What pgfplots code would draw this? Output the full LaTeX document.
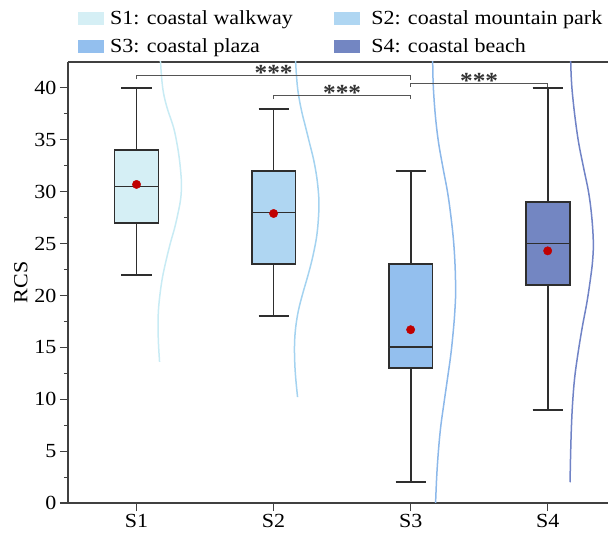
\documentclass[border=0pt]{standalone}
\usepackage{fontspec}
\setmainfont{Liberation Serif}[FakeStretch=1.1]
\usepackage{pgfplots}
\pgfplotsset{compat=1.18}
\usepgfplotslibrary{statistics}
\definecolor{f1}{HTML}{D5EFF5}
\definecolor{f2}{HTML}{AFD6F2}
\definecolor{f3}{HTML}{93BFEE}
\definecolor{f4}{HTML}{7386C2}
\definecolor{v1}{HTML}{C8EBF4}
\definecolor{v2}{HTML}{A4D3F0}
\definecolor{v3}{HTML}{8CB8EA}
\definecolor{v4}{HTML}{7083C6}
\definecolor{boxdraw}{HTML}{2E2E2E}
\definecolor{meanred}{HTML}{C00000}
\definecolor{axcol}{HTML}{404040}
\definecolor{brk}{HTML}{555555}
\begin{document}
\begin{tikzpicture}
\begin{axis}[
  at={(0,0)}, anchor=south west,
  scale only axis, width=540pt, height=441pt,
  xmin=0.5, xmax=4.44, ymin=0, ymax=42.5,
  axis x line*=box, axis y line*=left,
  axis line style={axcol, line width=1.2pt},
  xtick={1,2,3,4}, xticklabels={S1,S2,S3,S4},
  xtick pos=left,
  ytick={0,5,...,40}, minor y tick num=1,
  tick align=outside,
  major tick length=8pt, minor tick length=4pt,
  tick style={axcol, line width=1.1pt},
  /pgf/number format/assume math mode=true,
  tick label style={font=\fontsize{20}{24}\selectfont},
  ylabel={RCS}, ylabel style={font=\fontsize{20}{24}\selectfont},
  boxplot/draw direction=y,
  clip=true,
  legend columns=2,
  legend cell align=left,
  legend style={draw=none, fill=none, at={(axis description cs:0.0123,1.1255)}, anchor=north west,
    font=\fontsize{20}{24}\selectfont,
    /tikz/row sep=8pt,
    /tikz/every even column/.append style={column sep=39pt}},
]
\addlegendimage{legend image code/.code={\fill[f1] (0pt,-6pt) rectangle (25pt,6pt); \path (30pt,0pt);}}
\addlegendentry{S1: coastal walkway}
\addlegendimage{legend image code/.code={\fill[f2] (0pt,-6pt) rectangle (25pt,6pt); \path (35pt,0pt);}}
\addlegendentry{S2: coastal mountain park}
\addlegendimage{legend image code/.code={\fill[f3] (0pt,-6pt) rectangle (25pt,6pt); \path (30pt,0pt);}}
\addlegendentry{S3: coastal plaza}
\addlegendimage{legend image code/.code={\fill[f4] (0pt,-6pt) rectangle (25pt,6pt); \path (35pt,0pt);}}
\addlegendentry{S4: coastal beach}

% density curves
\addplot[forget plot, smooth, tension=0.6, v1, line width=1.5pt] coordinates {
(1.165,44)(1.175,42.5)(1.183,41)(1.197,39.5)(1.225,38)(1.27,36.2)(1.297,34.5)(1.314,33)(1.325,31.5)(1.328,30.5)(1.322,29.3)(1.307,28.2)(1.28,26.6)(1.248,25.1)(1.218,23.5)(1.19,21.8)(1.172,20.2)(1.16,18.6)(1.157,17)(1.16,15.4)(1.168,13.6)};
\addplot[forget plot, smooth, tension=0.6, v2, line width=1.5pt] coordinates {
(2.155,44)(2.161,42.5)(2.168,41)(2.18,39.5)(2.204,37.8)(2.234,36.2)(2.264,34.6)(2.292,33.1)(2.315,31.4)(2.328,29.8)(2.331,28.7)(2.328,27.6)(2.32,26.3)(2.307,25.1)(2.28,23.4)(2.248,21.8)(2.213,20.2)(2.182,18.6)(2.162,17)(2.153,15.4)(2.154,13.7)(2.161,12.1)(2.175,10.2)};
\addplot[forget plot, smooth, tension=0.6, v3, line width=1.5pt] coordinates {
(3.16,44)(3.161,42.5)(3.163,41)(3.168,39.5)(3.182,37.1)(3.204,34.7)(3.236,32.3)(3.27,29.9)(3.295,27.5)(3.314,25.1)(3.325,22.6)(3.328,20.2)(3.323,18.6)(3.314,17)(3.295,14.5)(3.27,12.1)(3.244,9.7)(3.219,7.3)(3.202,4.9)(3.19,2.5)(3.182,0)};
\addplot[forget plot, smooth, tension=0.6, v4, line width=1.5pt] coordinates {
(4.166,44)(4.168,42.5)(4.172,41)(4.18,39.5)(4.2,37.1)(4.226,34.7)(4.262,32.3)(4.299,29.9)(4.322,27.5)(4.333,25.1)(4.328,23.4)(4.314,21.8)(4.287,19.4)(4.253,17)(4.222,14.5)(4.197,12.1)(4.182,9.7)(4.173,7.3)(4.167,4.6)(4.163,2.0)};

% boxes
\addplot[forget plot, boxplot prepared={lower whisker=22, lower quartile=27, median=30.5, upper quartile=34, upper whisker=40, draw position=1, box extend=0.32, whisker extend=0.22}, fill=f1, draw=boxdraw, line width=1.8pt] coordinates {};
\addplot[forget plot, boxplot prepared={lower whisker=18, lower quartile=23, median=28, upper quartile=32, upper whisker=38, draw position=2, box extend=0.32, whisker extend=0.22}, fill=f2, draw=boxdraw, line width=1.8pt] coordinates {};
\addplot[forget plot, boxplot prepared={lower whisker=2, lower quartile=13, median=15, upper quartile=23, upper whisker=32, draw position=3, box extend=0.32, whisker extend=0.22}, fill=f3, draw=boxdraw, line width=1.8pt] coordinates {};
\addplot[forget plot, boxplot prepared={lower whisker=9, lower quartile=21, median=25, upper quartile=29, upper whisker=40, draw position=4, box extend=0.32, whisker extend=0.22}, fill=f4, draw=boxdraw, line width=1.8pt] coordinates {};

% means
\addplot[forget plot, only marks, mark=*, mark size=4.2pt, color=meanred] coordinates {(1,30.7)(2,27.9)(3,16.7)(4,24.3)};

% significance brackets
\draw[brk, line width=0.9pt] (axis cs:1,40.85) |- (axis cs:3,41.2) -- (axis cs:3,40.8);
\draw[brk, line width=0.9pt] (axis cs:2,38.93) |- (axis cs:3,39.28) -- (axis cs:3,38.93);
\draw[brk, line width=0.9pt] (axis cs:3,40.13) |- (axis cs:4,40.47) -- (axis cs:4,40.1);
\node[font=\fontsize{23}{26}\selectfont\bfseries, anchor=base, inner sep=0pt, text=black!80] at (axis cs:2,40.75) {***};
\node[font=\fontsize{23}{26}\selectfont\bfseries, anchor=base, inner sep=0pt, text=black!80] at (axis cs:2.5,38.8) {***};
\node[font=\fontsize{23}{26}\selectfont\bfseries, anchor=base, inner sep=0pt, text=black!80] at (axis cs:3.5,39.9) {***};
\end{axis}
\pgfresetboundingbox
\path (-68pt,-30pt) rectangle (540pt,503pt);
\end{tikzpicture}
\end{document}
